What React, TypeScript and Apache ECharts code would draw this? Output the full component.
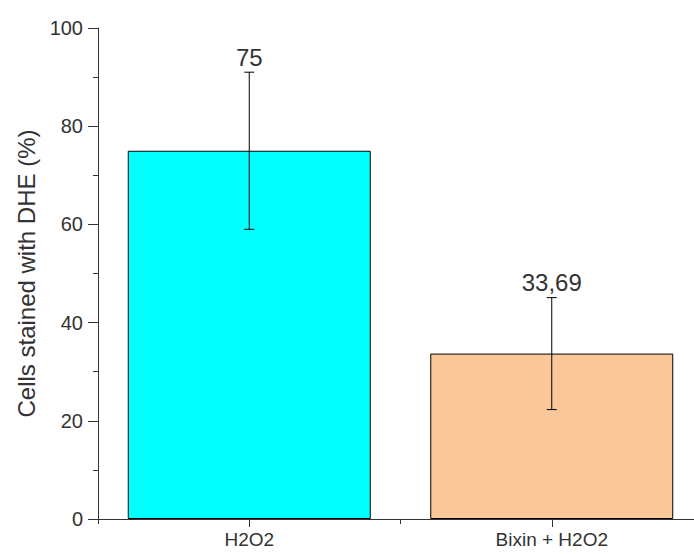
import React, { useEffect, useRef } from "react";
import * as echarts from "echarts";

const categories = ["H2O2", "Bixin + H2O2"];
const values = [75, 33.69];
const errors = [16, 11.4];
const valueLabels = ["75", "33,69"];
const barColors = ["#00FFFF", "#F9C799"];
const yTicks = { min: 0, max: 100, interval: 20 };

export default function App() {
  const ref = useRef<HTMLDivElement>(null);
  useEffect(() => {
    if (!ref.current) return;
    const chart = echarts.init(ref.current, undefined, { renderer: "svg" });
    const font = "Liberation Sans, Arial, sans-serif";
    const textColor = "#333";
    chart.setOption({
      animation: false,
      grid: { left: 98, top: 28, right: 0, bottom: 35, containLabel: false },
      xAxis: [
        {
          type: "category",
          data: categories,
          position: "bottom",
          axisLine: { show: true, lineStyle: { color: "#333", width: 1 } },
          axisTick: { show: true, alignWithLabel: true, length: 8, lineStyle: { color: "#333" } },
          axisLabel: { color: textColor, fontSize: 19, fontFamily: font, margin: 11 },
        },
        {
          type: "category",
          data: categories,
          position: "bottom",
          offset: 0,
          axisLine: { show: false },
          axisTick: { show: true, length: 5, lineStyle: { color: "#333" } },
          axisLabel: { show: false },
        },
      ],
      yAxis: {
        type: "value",
        min: yTicks.min,
        max: yTicks.max,
        interval: yTicks.interval,
        name: "Cells stained with DHE (%)",
        nameLocation: "middle",
        nameGap: 58,
        nameTextStyle: { color: textColor, fontSize: 24, fontFamily: font },
        axisLine: { show: true, lineStyle: { color: "#333", width: 1 } },
        axisTick: { show: true, length: 10, lineStyle: { color: "#333" } },
        minorTick: { show: true, splitNumber: 2, length: 5, lineStyle: { color: "#333" } },
        splitLine: { show: false },
        axisLabel: { color: textColor, fontSize: 20, fontFamily: font, margin: 15 },
      },
      series: [
        {
          type: "bar",
          barWidth: 243,
          data: values.map((v, i) => ({
            value: v,
            itemStyle: { color: barColors[i], borderColor: "#000", borderWidth: 1 },
          })),
        },
        {
          type: "custom",
          data: values.map((v, i) => [i, v - errors[i], v + errors[i]]),
          renderItem: (params: any, api: any) => {
            const idx = api.value(0);
            const lo = api.coord([idx, api.value(1)]);
            const hi = api.coord([idx, api.value(2)]);
            const x = lo[0];
            const cap = 5;
            const style = { stroke: "#000", lineWidth: 1 };
            return {
              type: "group",
              children: [
                { type: "line", shape: { x1: x, y1: lo[1], x2: x, y2: hi[1] }, style },
                { type: "line", shape: { x1: x - cap, y1: lo[1], x2: x + cap, y2: lo[1] }, style },
                { type: "line", shape: { x1: x - cap, y1: hi[1], x2: x + cap, y2: hi[1] }, style },
                {
                  type: "text",
                  x: x,
                  y: hi[1] - 3,
                  style: {
                    text: valueLabels[params.dataIndex],
                    fill: textColor,
                    fontSize: 24,
                    fontFamily: font,
                    align: "center",
                    verticalAlign: "bottom",
                  },
                },
              ],
            };
          },
          z: 10,
        },
      ],
    });
    return () => chart.dispose();
  }, []);
  return (
    <div style={{ position: "absolute", left: 0, top: 0, width: 694, height: 554, overflow: "hidden" }}>
      <div ref={ref} style={{ width: 703, height: 554 }} />
    </div>
  );
}
